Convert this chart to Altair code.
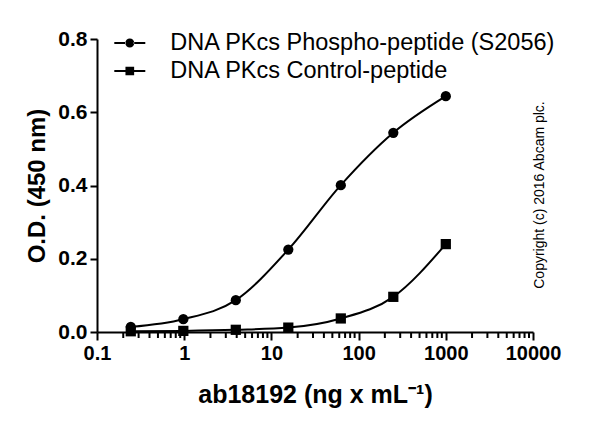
import altair as alt
import pandas as pd

# Data
conc = [0.244, 0.977, 3.906, 15.625, 62.5, 250, 1000]
phospho = [0.014, 0.035, 0.087, 0.225, 0.401, 0.544, 0.644]
control = [0.002, 0.003, 0.006, 0.012, 0.037, 0.096, 0.240]
series_names = ["DNA PKcs Phospho-peptide (S2056)", "DNA PKcs Control-peptide"]

x_major = [0.1, 1, 10, 100, 1000, 10000]
x_minor_mult = [2, 3, 4, 5, 6, 7, 8, 9]
y_ticks = [0.0, 0.2, 0.4, 0.6, 0.8]
copyright_text = "Copyright (c) 2016 Abcam plc."

x_minor = []
for m in x_major[:-1]:
    for k in x_minor_mult:
        x_minor.append(round(m * k, 6))

rows = []
for c, v in zip(conc, phospho):
    rows.append({"conc": c, "od": v, "series": series_names[0]})
for c, v in zip(conc, control):
    rows.append({"conc": c, "od": v, "series": series_names[1]})
df = pd.DataFrame(rows)

FONT = "Liberation Sans"
W, H = 436, 293
x_scale = alt.Scale(type="log", domain=[0.1, 10000], nice=False)
y_scale = alt.Scale(domain=[0, 0.8], nice=False, zero=True)

x_major_axis = alt.Axis(
    orient="bottom",
    title="ab18192 (ng x mL\u207b\u00b9)",
    values=x_major,
    format="~g",
    labelFlush=False,
    labelOverlap=False,
    ticks=True,
    tickSize=8,
    tickWidth=2,
    tickColor="black",
    labelPadding=3,
    labelFontSize=20,
    titleFontSize=25,
    titlePadding=19,
)
y_axis = alt.Axis(
    title="O.D. (450 nm)",
    values=y_ticks,
    format=".1f",
    tickSize=7,
    tickWidth=2,
    labelPadding=3,
    labelFontSize=21,
    titleFontSize=24,
    titlePadding=8,
)

lines = alt.Chart(df).mark_line(
    interpolate="monotone", color="black", strokeWidth=2
).encode(
    x=alt.X("conc:Q", scale=x_scale, axis=x_major_axis),
    y=alt.Y("od:Q", scale=y_scale, axis=y_axis),
    detail="series:N",
)

points = alt.Chart(df).mark_point(
    filled=True, color="black", size=105, opacity=1
).encode(
    x=alt.X("conc:Q", scale=x_scale),
    y=alt.Y("od:Q", scale=y_scale),
    shape=alt.Shape(
        "series:N",
        scale=alt.Scale(domain=series_names, range=["circle", "square"]),
        legend=None,
    ),
)

# minor log ticks on the x axis, positioned through the x scale
minor_ticks = alt.Chart(pd.DataFrame({"v": x_minor})).mark_rule(
    color="black", strokeWidth=2
).encode(
    x=alt.X("v:Q", scale=x_scale),
    y=alt.value(H),
    y2=alt.value(H + 6),
)

circle_line = (
    "M-1,-0.065H-0.25V0.065H-1Z M0.25,-0.065H1V0.065H0.25Z "
    "M-0.29,0A0.29,0.29,0,1,0,0.29,0A0.29,0.29,0,1,0,-0.29,0Z"
)
square_line = (
    "M-1,-0.065H-0.28V0.065H-1Z M0.28,-0.065H1V0.065H0.28Z "
    "M-0.28,-0.28H0.28V0.28H-0.28Z"
)

legend_layer = alt.Chart(df).mark_point(
    filled=True, color="black", opacity=0
).encode(
    x=alt.X("conc:Q", scale=x_scale),
    y=alt.Y("od:Q", scale=y_scale),
    shape=alt.Shape(
        "series:N",
        scale=alt.Scale(domain=series_names, range=[circle_line, square_line]),
        legend=alt.Legend(
            title=None,
            orient="none",
            legendX=17.3,
            legendY=-11.5,
            padding=0,
            symbolSize=961,
            symbolFillColor="black",
            symbolStrokeWidth=0,
            symbolOpacity=1,
            labelFont=FONT,
            labelFontSize=23.5,
            labelFontWeight="normal",
            labelColor="black",
            labelOffset=25,
            rowPadding=1,
            labelLimit=600,
        ),
    ),
)

copyright_layer = alt.Chart(
    alt.Data(values=[{"t": copyright_text}])
).mark_text(
    angle=270, font=FONT, fontSize=14, color="black", align="center", baseline="middle"
).encode(
    text="t:N",
    x=alt.value(443),
    y=alt.value(156),
)

chart = (
    alt.layer(lines, minor_ticks, points, legend_layer, copyright_layer)
    .resolve_scale(shape="independent")
    .properties(
        width=W,
        height=H,
        autosize=alt.AutoSizeParams(type="none"),
        padding={"left": 89, "top": 31, "right": 59, "bottom": 90},
    )
    .configure_view(stroke=None)
    .configure_axis(
        grid=False,
        domainColor="black",
        domainWidth=2,
        tickColor="black",
        labelFont=FONT,
        labelFontWeight="bold",
        labelColor="black",
        titleFont=FONT,
        titleFontWeight="bold",
        titleColor="black",
    )
)

chart.save("out.html", embed_options={"renderer": "svg", "actions": False})
